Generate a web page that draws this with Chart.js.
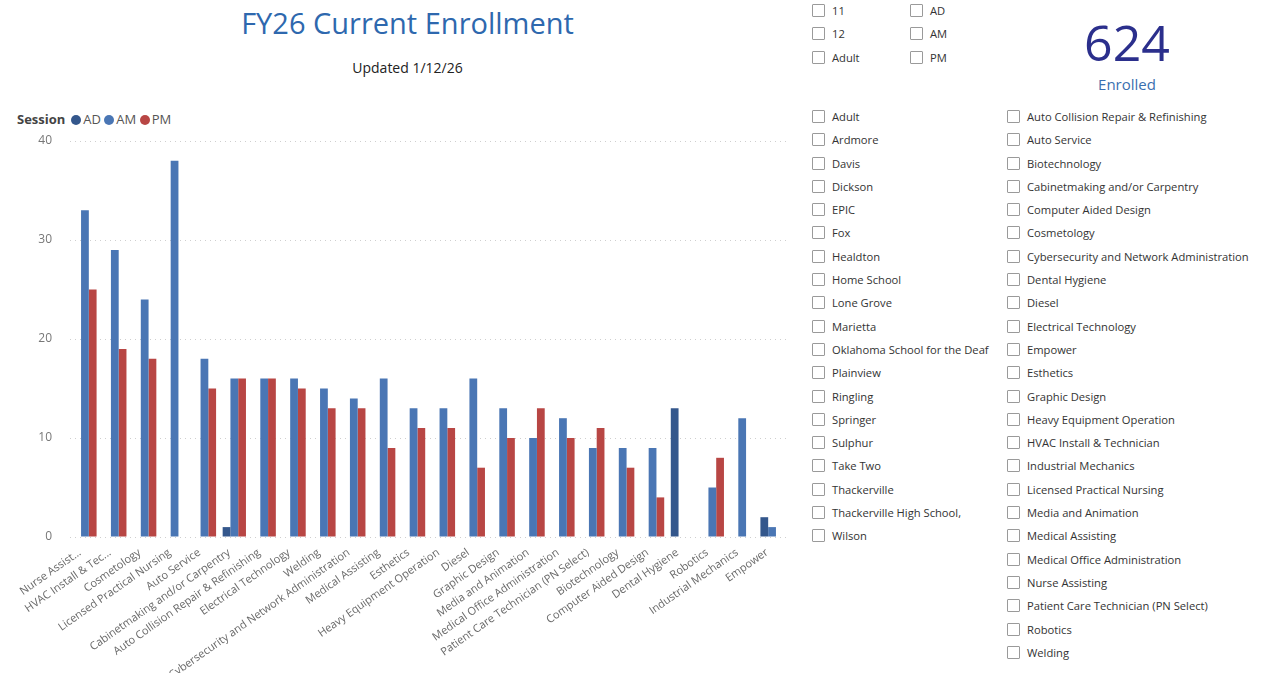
<!DOCTYPE html>
<html>
<head>
<title>FY26 Current Enrollment</title>
<script src="https://cdn.jsdelivr.net/npm/chart.js@4.4.1/dist/chart.umd.min.js"></script>
<style>
body{
margin:0;
background:#ffffff;
font-family:"Segoe UI","Open Sans",sans-serif;
width:1271px;
height:673px;
overflow:hidden;
position:relative;
}
#title{
position:absolute;
left:0;
width:815px;
top:3px;
text-align:center;
font-size:29px;
color:#2E68AE;
}
#updated{
position:absolute;
left:0;
width:815px;
top:58px;
text-align:center;
font-size:14px;
color:#222;
}
#legend{
position:absolute;
left:17px;
top:110px;
font-size:13px;
color:#555;
}
#legend b{
color:#444;
margin-right:6px;
}
.dot{
display:inline-block;
width:10px;
height:10px;
border-radius:50%;
margin-right:2px;
vertical-align:-1px;
}
#chartBox{
position:absolute;
left:0;
top:100px;
width:800px;
height:573px;
}
.slicer{
position:absolute;
font-size:11.2px;
color:#333;
}
.slicer div{
height:23.3px;
line-height:14px;
white-space:nowrap;
}
.box{
display:inline-block;
width:11px;
height:11px;
border:1px solid #9a9a9a;
border-radius:1px;
margin-right:7px;
vertical-align:-2px;
}
#card{
position:absolute;
left:1027px;
width:200px;
top:12px;
text-align:center;
}
#card .big{
font-size:50px;
color:#2B2F8C;
line-height:60px;
}
#card .small{
font-size:15px;
color:#3A6FB0;
margin-top:2px;
}
</style>
</head>
<body>
<div id="title">FY26 Current Enrollment</div>
<div id="updated">Updated 1/12/26</div>
<div id="legend"></div>
<div id="chartBox"><canvas id="myChart"></canvas></div>
<div class="slicer" id="grades" style="left:812px;top:4px;"></div>
<div class="slicer" id="sessionsList" style="left:910px;top:4px;"></div>
<div id="card"><div class="big" id="total"></div><div class="small">Enrolled</div></div>
<div class="slicer" id="schools" style="left:812px;top:110px;"></div>
<div class="slicer" id="programs" style="left:1007px;top:110px;"></div>
<script>
// chart data
var categories = ['Nurse Assisting','HVAC Install & Technician','Cosmetology','Licensed Practical Nursing','Auto Service',
 'Cabinetmaking and/or Carpentry','Auto Collision Repair & Refinishing','Electrical Technology','Welding',
 'Cybersecurity and Network Administration','Medical Assisting','Esthetics','Heavy Equipment Operation','Diesel',
 'Graphic Design','Media and Animation','Medical Office Administration','Patient Care Technician (PN Select)',
 'Biotechnology','Computer Aided Design','Dental Hygiene','Robotics','Industrial Mechanics','Empower'];
var tickLabels = ['Nurse Assist...','HVAC Install & Tec...','Cosmetology','Licensed Practical Nursing','Auto Service',
 'Cabinetmaking and/or Carpentry','Auto Collision Repair & Refinishing','Electrical Technology','Welding',
 'Cybersecurity and Network Administration','Medical Assisting','Esthetics','Heavy Equipment Operation','Diesel',
 'Graphic Design','Media and Animation','Medical Office Administration','Patient Care Technician (PN Select)',
 'Biotechnology','Computer Aided Design','Dental Hygiene','Robotics','Industrial Mechanics','Empower'];
var adValues = [null,null,null,null,null,1,null,null,null,null,null,null,null,null,null,null,null,null,null,null,13,null,null,2];
var amValues = [33,29,24,38,18,16,16,16,15,14,16,13,13,16,13,10,12,9,9,9,null,5,12,1];
var pmValues = [25,19,18,null,15,16,16,15,13,13,9,11,11,7,10,13,10,11,7,4,null,8,null,null];
var yTicks = [0,10,20,30,40];

var sessionNames = ['AD','AM','PM'];
var sessionColors = ['#34578C','#4A76B4','#B84644'];

// slicer items
var gradeItems = ['11','12','Adult'];
var schoolItems = ['Adult','Ardmore','Davis','Dickson','EPIC','Fox','Healdton','Home School','Lone Grove','Marietta',
 'Oklahoma School for the Deaf','Plainview','Ringling','Springer','Sulphur','Take Two','Thackerville',
 'Thackerville High School,','Wilson'];
var programItems = ['Auto Collision Repair & Refinishing','Auto Service','Biotechnology','Cabinetmaking and/or Carpentry',
 'Computer Aided Design','Cosmetology','Cybersecurity and Network Administration','Dental Hygiene','Diesel',
 'Electrical Technology','Empower','Esthetics','Graphic Design','Heavy Equipment Operation','HVAC Install & Technician',
 'Industrial Mechanics','Licensed Practical Nursing','Media and Animation','Medical Assisting',
 'Medical Office Administration','Nurse Assisting','Patient Care Technician (PN Select)','Robotics','Welding'];

function fillSlicer(id, items){
  var el = document.getElementById(id);
  items.forEach(function(t){
    var d = document.createElement('div');
    d.innerHTML = '<span class="box"></span>' + t;
    el.appendChild(d);
  });
}
fillSlicer('grades', gradeItems);
fillSlicer('sessionsList', sessionNames);
fillSlicer('schools', schoolItems);
fillSlicer('programs', programItems);

var total = 0;
[adValues, amValues, pmValues].forEach(function(arr){
  arr.forEach(function(v){ if(v) total += v; });
});
document.getElementById('total').textContent = total;

var lg = '<b>Session</b>';
sessionNames.forEach(function(n, i){
  lg += '<span class="dot" style="background:' + sessionColors[i] + '"></span>' + n + ' ';
});
document.getElementById('legend').innerHTML = lg;

var allValues = [adValues, amValues, pmValues];
var ctx = document.getElementById('myChart').getContext('2d');
var chart = new Chart(ctx, {
  type: 'bar',
  data: {
    labels: categories,
    datasets: sessionNames.map(function(n, i){
      return { label: n, data: allValues[i], backgroundColor: sessionColors[i], borderWidth: 0 };
    })
  },
  options: {
    responsive: true,
    maintainAspectRatio: false,
    animation: false,
    categoryPercentage: 0.78,
    barPercentage: 1.0,
    layout: { padding: { top: 41, right: 13, left: 0, bottom: 0 } },
    plugins: { legend: { display: false }, tooltip: { enabled: false } },
    scales: {
      x: {
        grid: { display: false },
        border: { display: false },
        afterFit: function(axis){ axis.height = 136; },
        ticks: {
          autoSkip: false,
          minRotation: 35,
          maxRotation: 35,
          padding: 1,
          labelOffset: -5,
          color: '#6a6a6a',
          font: { family: '"Segoe UI","Open Sans",sans-serif', size: 11 },
          callback: function(v, i){ return tickLabels[i]; }
        }
      },
      y: {
        min: 0,
        max: 40,
        afterBuildTicks: function(axis){ axis.ticks = yTicks.map(function(v){ return { value: v }; }); },
        afterFit: function(axis){ axis.width = 70; },
        border: { display: false, dash: [1, 4] },
        grid: { color: '#cfcfcf', drawTicks: false },
        ticks: {
          color: '#777',
          padding: 18,
          font: { family: '"Segoe UI","Open Sans",sans-serif', size: 12 }
        }
      }
    }
  }
});
</script>
</body>
</html>
